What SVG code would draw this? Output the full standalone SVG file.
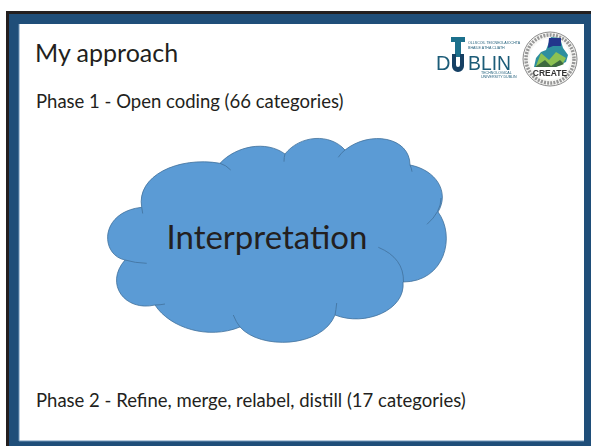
<svg xmlns="http://www.w3.org/2000/svg" width="591" height="446" viewBox="0 0 591 446">
<style>
text{font-family:Lato,"Liberation Sans",sans-serif;fill:#231f20}
.lab{font-size:18.5px}
.in{fill:none;stroke:#41719c;stroke-width:.8}
.tiny{font-size:3.6px;fill:#1d5c78;font-family:"Liberation Sans",sans-serif}
</style>
<defs><filter id="b" x="-5%" y="-5%" width="110%" height="110%"><feGaussianBlur stdDeviation=".45"/></filter></defs>
<rect width="591" height="446" fill="#fff"/>
<g id="frame">
<path d="M6 446V11H591V14H9V446Z" fill="#231f20"/>
<path d="M9 14H591V446H9ZM19 24V441H584V24Z" fill="#1f4e79" fill-rule="evenodd"/>
<path d="M19 24V441H584" fill="none" stroke="#6f94b8" stroke-width="1"/>
</g>
<g id="title"><text x="35" y="62" style="font-size:25px">My approach</text></g>
<g id="phase1"><text class="lab" x="36" y="108">Phase 1 - Open coding  (66 categories)</text></g>
<g id="phase2"><text class="lab" x="36" y="407">Phase 2 - Refine, merge, relabel, distill  (17 categories)</text></g>
<g id="logo-dublin" filter="url(#b)">
<path d="M451 37H465V42H461V57H455V42H451Z" fill="#1a6f8c"/>
<path d="M452 53V65A6 6 0 0 0 464 65V53H460V64A2 2 0 0 1 456 64V53Z" fill="#123f63" transform="translate(0 1)"/>
<text x="436" y="70" style="font-size:20px;fill:#1d5c78;font-family:'Liberation Sans',sans-serif">D</text>
<text x="468" y="70" style="font-size:21px;fill:#1d5c78;font-family:'Liberation Sans',sans-serif" textLength="43" lengthAdjust="spacingAndGlyphs">BLIN</text>
<text class="tiny" x="468" y="44">OLLSCOIL TEICNEOLAÍOCHTA</text>
<text class="tiny" x="468" y="49">BHAILE ÁTHA CLIATH</text>
<text class="tiny" x="481" y="74">TECHNOLOGICAL</text>
<text class="tiny" x="481" y="78">UNIVERSITY DUBLIN</text>
</g>
<g id="logo-create" filter="url(#b)">
<circle cx="550" cy="59" r="27" fill="#f7f7f5" stroke="#8a8a8a" stroke-width="1"/>
<circle cx="550" cy="59" r="24" fill="none" stroke="#777" stroke-width="3.5" stroke-dasharray="2 1.2" opacity=".75"/>
<circle cx="550" cy="59" r="20.5" fill="#fff"/>
<path d="M551 37L560 38L563 48L568 55L566 62L555 67H534L536 58L541 52L546 50Z" fill="#2f8f9f"/>
<path d="M549 38L561 38L561 46L553 46L548 48Z" fill="#23348c"/>
<path d="M536 66L541 53L549 60L556 52L566 58L562 65L550 67Z" fill="#8cc152"/>
<path d="M535 67L545 60L551 66L560 60L564 64L556 67Z" fill="#3c6b3f"/>
<text x="550" y="76" text-anchor="middle" style="font-size:8.5px;fill:#333;font-family:'Liberation Sans',sans-serif;font-weight:bold">CREATE</text>
</g>
<g id="cloud">
<path d="M141.700 207.300C136 176 178 156 220 163.300C236 146 266 140 285 154C300 135 330 133 345 150C370 130 410 137 410 165C436 170 450 192 438 212C456 236 445 282 403 282C406 310 365 327 335 315C322 348 260 350 240 327C208 340 170 328 155 305C125 312 104 284 125 260C100 255 99 212 141.700 207.300Z" fill="#5b9bd5" stroke="#41719c" stroke-width=".8"/>
<path class="in" d="M141.700 207.300L142.700 213.500M220 163.300Q226 165 230.700 170M285 154Q284 157 284 161.700M345 150Q341 153 338.300 157.300M410 165Q411.500 168 412 171.700M441 198Q441 212 427 224.300M378.300 247.300Q404 258 403.500 282M336.700 303Q336 310 335 315M233.300 315Q236 322 240 327M155 305Q160 305 165 304M125 260Q135 263 146.700 263.300"/>
<text x="267" y="249" text-anchor="middle" style="font-size:33px">Interpretation</text>
</g>
</svg>
